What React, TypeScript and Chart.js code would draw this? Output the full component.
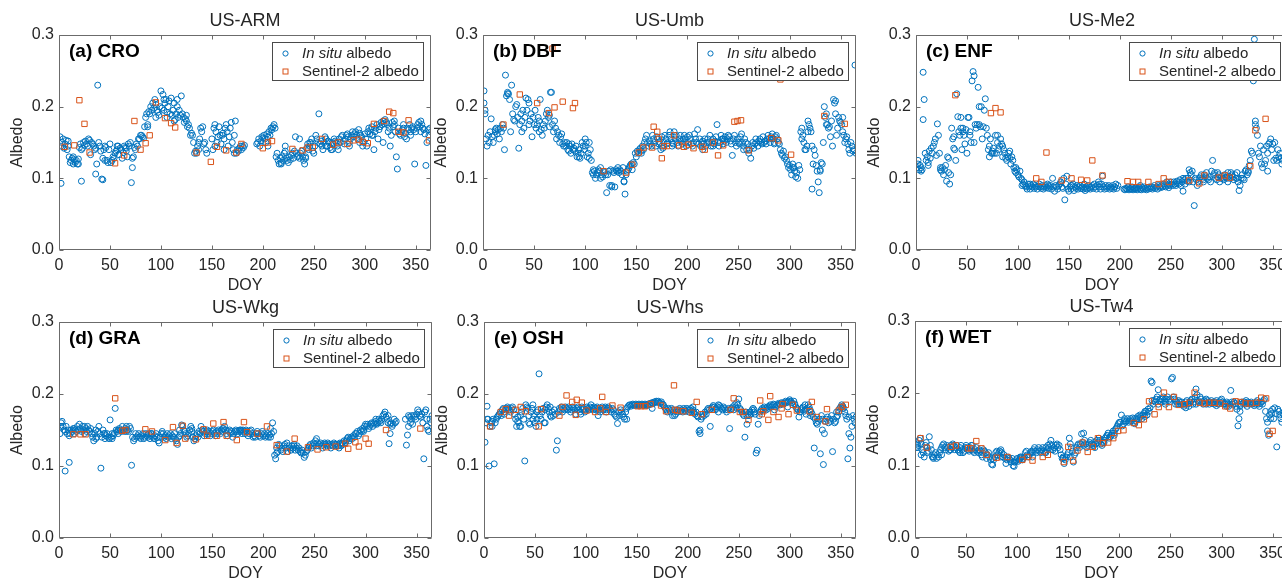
import React, { useEffect, useRef } from "react";
import { Chart, registerables } from "chart.js";

Chart.register(...registerables);

const FONT = "'Liberation Sans', Arial, Helvetica, sans-serif";
const BLUE = "#0072BD";
const ORANGE = "#D95319";
const AXIS = "#6b6b6b";
const TEXT = "#262626";

// axis settings
const DOY_MIN = 0;
const DOY_MAX = 365;
const DOY_STEP = 50;
const ALB_MIN = 0;
const ALB_MAX = 0.3;
const ALB_STEP = 0.1;

const siteNames = ["US-ARM", "US-Umb", "US-Me2", "US-Wkg", "US-Whs", "US-Tw4"];
const panelLabels = ["(a) CRO", "(b) DBF", "(c) ENF", "(d) GRA", "(e) OSH", "(f) WET"];
const seriesNames = ["In situ albedo", "Sentinel-2 albedo"];

// ---------- US-ARM (CRO) ----------
const armInSitu: (number | null)[] = [
  .158,.145,.150,.155,.142,.148,.153,.140,.145,.130,
  .122,.125,.128,.120,.126,.122,.125,.120,.127,.143,
  .148,.140,.142,.150,.146,.152,.148,.145,.155,.153,
  .133,.150,.148,.145,.140,.142,.120,.230,.150,.145,
  .138,.099,.128,.140,.145,.143,.125,.122,.140,.148,
  .122,.125,.130,.128,.135,.138,.140,.145,.133,.142,
  .140,.128,.136,.145,.143,.138,.130,.148,.145,.150,
  .094,.115,.130,.143,.140,.148,.145,.155,.155,.160,
  .160,.158,.156,.172,.185,.190,.172,.193,.190,.200,
  .195,.205,.198,.210,.203,.195,.192,.188,.200,.222,
  .198,.217,.195,.205,.210,.192,.200,.208,.190,.212,
  .188,.195,.205,.182,.190,.200,.185,.195,.188,.215,
  .190,.185,.178,.183,.180,.172,.175,.170,.160,.163,
  .160,.150,.135,.138,.135,.145,.140,.155,.170,.165,
  .172,.148,.150,.140,.135,null,null,null,null,.155,
  .140,.170,.175,.165,.150,.158,.172,.160,.148,.160,
  .163,.155,.170,.175,.165,.145,.158,.170,.178,.150,
  .140,.160,.180,.135,.140,.138,.142,.145,.140,.145,
  .143,.146,null,null,null,null,null,null,null,null,
  null,null,null,.148,.150,.155,.145,.152,.158,.156,
  .160,.155,.150,.162,.158,.165,.160,.170,.168,.172,
  .175,.170,.130,.135,.125,.120,.128,.122,.130,.125,
  .135,.145,.128,.125,.122,.130,.126,.132,.135,.128,
  .138,.158,.135,.130,.132,.128,.135,.138,.130,.125,
  .120,.128,.142,.148,.140,.145,.150,.155,.138,.135,
  .145,.160,.155,.150,.190,.148,.152,.145,.140,.150,
  .158,.155,.145,.152,.150,.143,.140,.150,.148,.155,
  .152,.150,.145,.140,.155,.150,.158,.160,.152,.148,
  .155,.160,.162,.158,.150,.155,.160,.165,.158,.162,
  .165,.160,.155,.168,.163,.160,.158,.145,.150,.162,
  .155,.145,.165,.170,.162,.168,.172,.160,.140,.165,
  .170,.175,.155,.168,.172,.178,.175,.180,.176,.182,
  .178,.175,.165,.170,.145,.160,.178,.172,.175,.165,
  .130,.113,.170,.162,.160,.165,.168,.170,.158,.163,
  .155,.170,.168,.175,.165,.170,.172,.168,.120,.165,
  .170,.175,.178,.172,.165,.175,.170,.168,.162,.118,
  .150,.168,.160,.170,.165,
];
const armInSituExtra: number[][] = [
  [2,.093],[9,.152],[14,.130],[19,.120],[22,.096],[36,.106],[43,.098],[45,.125],[57,.145],[66,.142],
  [72,.128],[87,.175],[95,.185],[103,.210],[106,.185],[113,.180],[116,.210],[125,.188],[137,.150],[153,.145],
  [162,.140],[172,.135],[205,.145],[218,.120],[222,.138],[236,.155],[242,.130],[246,.150],[262,.145],[268,.140],
  [285,.145],[295,.150],[307,.160],[318,.150],[329,.180],[338,.175],[345,.160],[355,.180],
];
const armSentinel: number[][] = [
  [5.5,.144],[15,.146],[20,.209],[25,.176],[30,.136],[55,.121],[64,.132],[74,.180],[80,.140],[85,.149],
  [89,.160],[95,.206],[104,.184],[110,.177],[114,.171],[135,.136],[149,.123],[155,.144],[164,.139],[174,.136],
  [179,.148],[200,.142],[205,.150],[209,.152],[229,.141],[239,.139],[244,.143],[249,.143],[258,.155],[269,.147],
  [274,.150],[283,.148],[289,.153],[294,.154],[298,.151],[303,.149],[309,.176],[319,.180],[324,.193],[328,.191],
  [333,.165],[338,.164],[343,.181],[363,.153],
];

// ---------- US-Umb (DBF) ----------
const umbInSitu: (number | null)[] = [
  .222,.190,.155,.145,.160,.150,.165,.183,.158,.150,
  .160,.165,.170,.162,.168,.155,.170,.165,.175,.170,
  .140,.244,.215,.220,.218,.210,.165,.230,.190,.182,
  .180,.200,.203,.185,.142,.175,.190,.180,.195,.170,
  .185,.212,.195,.210,.205,.180,.190,.158,.185,.175,
  .195,.170,.175,.185,.165,.210,.168,.160,.175,.170,
  .180,.190,.195,.185,.172,.220,.220,.175,.165,.180,
  .170,.155,.165,.160,.150,.158,.162,.148,.145,.150,
  .145,.150,.140,.148,.145,.135,.148,.140,.142,.138,
  .145,.130,.135,.140,.128,.135,.150,.145,.140,.145,
  .150,.130,.135,.128,.140,.125,.108,.112,.110,.100,
  .105,.108,.112,.110,.115,.105,.102,.110,.108,.105,
  .080,.105,.110,.090,.112,.090,.110,.108,.088,.112,
  .110,.115,.108,.112,.110,.105,.115,.096,.078,.105,
  .110,.112,.115,.118,.120,.112,.122,.120,.135,.130,
  .138,.135,.140,.142,.138,.145,.140,.150,.155,.160,
  .150,.145,.152,.148,.145,.160,.155,.150,.145,.158,
  .155,.148,.150,.140,.145,.142,.150,.160,.155,.148,
  .150,.160,.165,.155,.150,.148,.165,.155,.160,.150,
  .145,.155,.160,.152,.148,.155,.160,.150,.145,.158,
  .150,.160,.155,.148,.145,.150,.162,.155,.150,.168,
  .148,.155,.145,.150,.152,.148,.155,.145,.150,.155,
  .150,.160,.145,.150,.155,.148,.152,.158,.175,.150,
  .145,.150,.160,.155,.148,.152,.158,.150,.155,.160,
  .158,.152,.148,.132,.155,.160,.150,.145,.155,.150,
  .148,.158,.162,.150,.145,.155,.150,.140,.148,.135,
  .140,.128,.145,.150,.142,.148,.155,.150,.145,.152,
  .155,.150,.148,.158,.150,.152,.148,.155,.160,.155,
  .150,.158,.162,.155,.150,.158,.160,.155,.150,.148,
  .140,.135,.132,.138,.128,.130,.125,.120,.115,.118,
  .112,.105,.120,.115,.110,.102,.108,.100,.118,.112,
  .165,.170,.160,.150,.140,.140,.145,.180,.175,.170,
  .165,.085,.120,.140,.132,.118,.110,.095,.080,.112,
  .122,.120,.150,.200,.185,.190,.175,.170,.172,.158,
  .180,.145,.210,.205,.190,.160,.170,.185,.180,.178,
  .175,.165,.160,.150,.155,.158,.148,.140,.135,.150,
  .145,.138,.140,.258,.135,
];
const umbInSituExtra: number[][] = [
  [1,.205],[2,.195],[12,.168],[24,.218],[38,.165],[45,.175],[55,.180],[65,.188],[84,.138],[94,.130],
  [100,.155],[104,.150],[108,.105],[115,.100],[126,.088],[132,.110],[138,.095],[155,.135],[175,.158],[185,.145],
  [198,.155],[215,.140],[225,.145],[235,.155],[255,.140],[285,.148],[303,.115],[312,.155],[318,.165],[322,.145],
  [330,.110],[336,.175],[345,.208],[352,.185],
];
const umbSentinel: number[][] = [
  [20,.175],[36,.217],[53,.205],[64.5,.191],[68,.281],[70,.199],[78,.207],[88,.198],[90,.205],[118,.110],
  [140,.108],[146,.119],[152.5,.136],[157,.143],[165.5,.143],[167,.172],[170.5,.165],[172,.155],[175,.128],[177,.145],
  [180,.145],[187,.160],[192,.146],[196.5,.144],[201,.147],[206,.142],[214.5,.144],[217,.140],[225,.150],[230,.132],
  [235,.146],[246,.179],[249,.180],[252.5,.181],[260,.139],[282,.156],[289,.153],[291,.238],[301.5,.133],[334,.187],
  [354,.176],
];

// ---------- US-Me2 (ENF) ----------
const me2InSitu: (number | null)[] = [
  .115,.120,.112,.118,.115,.112,.248,.210,.135,.125,
  .130,.118,.138,.128,.142,.135,.145,.150,.155,.132,
  .176,.160,.135,.112,.110,.115,.105,.112,.118,.096,
  .130,.128,.092,.105,.170,.155,.158,.140,.125,.218,
  .186,.165,.160,.170,.140,.170,.160,.148,.168,.135,
  .185,.185,.165,.150,.236,.249,.243,.175,.170,.175,
  .227,.200,.172,.200,.155,.172,.195,.211,.170,.160,
  .140,.145,.155,.135,.138,.142,.135,.160,.135,.150,
  .140,.145,.155,.148,.130,.140,.135,.128,.125,.130,
  .135,.138,.120,.130,.125,.115,.110,.108,.112,.105,
  .102,.110,.100,.098,.092,.095,.090,.088,.085,.092,
  .088,.085,.090,.088,.092,.086,.090,.088,.085,.089,
  .092,.088,.086,.090,.085,.088,.090,.087,.092,.086,
  .088,.090,.085,.100,.088,.082,.090,.088,.085,.090,
  .092,.095,.088,.086,.100,.070,.092,.103,.085,.082,
  .088,.085,.090,.092,.083,.088,.086,.090,.085,.088,
  .090,.086,.088,.085,.092,.086,.088,.085,.090,.087,
  .085,.088,.090,.086,.092,.088,.085,.090,.095,.088,
  .085,.092,.103,.088,.085,.090,.086,.088,.090,.085,
  .088,.086,.090,.085,.088,.092,.086,.090,null,null,
  null,null,null,.085,.084,.086,.085,.088,.084,.086,
  .085,.088,.084,.086,.085,.087,.084,.086,.088,.085,
  .084,.087,.085,.088,.086,.084,.087,.085,.088,.086,
  .088,.085,.087,.090,.086,.088,.085,.090,.088,.087,
  .090,.088,.092,.090,.088,.095,.090,.092,.090,.095,
  .092,.090,.095,.092,.090,.096,.094,.092,.098,.090,
  .095,.082,.098,.092,.100,.096,.100,.095,.108,.105,
  .110,.095,.062,.100,.098,.090,.095,.100,.102,.105,
  .100,.098,.105,.102,.108,.100,.098,.102,.095,.110,
  .125,.105,.108,.100,.098,.102,.105,.095,.100,.103,
  .100,.098,.105,.102,.100,.095,.103,.100,.108,.105,
  .102,.098,.105,.100,.108,.095,.083,.090,.100,.105,
  .100,.098,.110,.112,.105,.110,.118,.125,.138,.135,
  .236,.294,.180,.170,.160,.135,.130,.145,.120,.115,
  .140,.120,.125,.145,.135,.148,.150,.155,.140,.148,
  .125,.150,.128,.125,.140,.130,.135,.128,.120,.125,
  .130,.128,.125,.122,.128,
];
const me2InSituExtra: number[][] = [
  [2,.125],[5,.110],[7,.182],[12,.122],[24,.115],[32,.108],[37,.142],[44,.185],[46,.165],[53,.160],
  [57,.150],[62,.175],[72,.130],[75,.135],[80,.160],[85,.145],[92,.128],[98,.115],[104,.090],[112,.092],
  [130,.090],[152,.090],[166,.083],[180,.092],[220,.090],[248,.087],[262,.100],[268,.112],[282,.095],[296,.108],
  [306,.108],[315,.100],[326,.108],[333,.175],[345,.110],
];
const me2Sentinel: number[][] = [
  [38.6,.216],[73.5,.191],[78,.198],[83,.192],[118,.100],[123,.095],[128,.136],[143,.097],[152.6,.100],[162,.098],
  [168,.097],[173,.125],[183,.104],[207.5,.096],[213,.095],[218,.095],[228,.095],[238,.092],[243,.100],[248,.095],
  [268,.097],[278,.093],[283,.104],[297,.101],[303,.104],[308,.101],[328,.117],[333,.167],[343,.183],
];

// ---------- US-Wkg (GRA) ----------
const wkgInSitu: (number | null)[] = [
  .145,.160,.162,.155,.150,.148,.155,.145,.150,.142,
  .145,.150,.148,.152,.145,.150,.148,.155,.150,.158,
  .152,.148,.155,.150,.145,.152,.148,.155,.150,.148,
  .152,.145,.140,.135,.145,.150,.140,.148,.155,.145,
  .097,.140,.150,.145,.138,.142,.145,.140,.138,.164,
  .140,.138,.142,.145,.180,.150,.148,.145,.152,.150,
  .148,.155,.150,.148,.152,.155,.150,.148,.155,.152,
  .101,.140,.135,.138,.145,.140,.142,.145,.140,.138,
  .142,.145,.138,.140,.145,.142,.140,.145,.138,.142,
  .145,.140,.138,.142,.145,.140,.135,.132,.140,.145,
  .148,.145,.140,.142,.138,.145,.140,.142,.145,.138,
  .142,.140,.145,.138,.135,.130,.140,.142,.145,.157,
  .155,.150,.148,.145,.140,.142,.145,.150,.155,.148,
  .140,.135,.138,.142,.145,.140,.148,.145,.155,.150,
  .148,.142,.145,.148,.150,.145,.148,.142,.145,.148,
  .150,.145,.142,.148,.145,.150,.148,.145,.150,.148,
  .152,.155,.150,.145,.142,.148,.150,.145,.148,.140,
  .145,.148,.150,.148,.145,.148,.150,.148,.145,.150,
  .148,.145,.150,.148,.142,.145,.148,.150,.145,.140,
  .142,.140,.145,.148,.145,.142,.140,.145,.148,.142,
  .145,.140,.142,.145,.140,.143,.140,.145,.160,.148,
  .115,.110,.125,.120,.130,.128,.122,.125,.120,.128,
  .130,.125,.132,.120,.128,.125,.122,.128,.125,.130,
  .122,.125,.128,.122,.125,.120,.118,.122,.118,.112,
  .115,.120,.122,.125,.128,.130,.125,.128,.132,.130,
  .135,.138,.132,.128,.130,.132,.128,.125,.130,.132,
  .130,.128,.132,.130,.128,.125,.130,.128,.132,.130,
  .128,.130,.128,.125,.130,.128,.132,.130,.135,.132,
  .135,.138,.140,.135,.138,.140,.138,.142,.140,.145,
  .145,.148,.142,.145,.150,.148,.152,.150,.155,.158,
  .155,.158,.152,.155,.158,.160,.155,.160,.158,.162,
  .158,.160,.165,.162,.160,.165,.170,.172,.175,.168,
  .165,.160,.131,.158,.160,.155,.158,.165,.160,.162,
  null,null,null,null,null,null,null,null,.165,.129,
  .143,.170,.168,.160,.165,.158,.170,.168,.165,.172,
  .178,.175,.170,.168,.172,.160,.110,.175,.178,.155,
  .150,.148,.165,.160,.170,
];
const wkgInSituExtra: number[][] = [
  [2,.155],[6,.093],[10,.105],[15,.152],[25,.155],[36,.138],[45,.145],[52,.145],[58,.150],[66,.148],
  [90,.145],[118,.150],[130,.152],[160,.152],[178,.150],[207,.152],[213,.118],[230,.128],[252,.128],[275,.132],
  [298,.148],[310,.165],[322,.170],[324,.145],[342,.155],[345,.170],[360,.165],
];
const wkgSentinel: number[][] = [
  [14,.144],[21,.144],[26,.144],[55,.194],[62,.149],[65,.150],[84.5,.151],[91,.148],[104,.136],[111.5,.154],
  [115,.132],[121,.156],[123.6,.138],[134,.137],[141.5,.151],[145,.142],[151,.159],[154.6,.142],[161,.161],[164,.142],
  [174,.136],[181,.161],[184,.147],[194,.145],[203.5,.155],[213,.129],[223,.120],[230.6,.138],[243.6,.126],[253,.123],
  [261.6,.126],[270.7,.127],[280,.131],[283,.124],[290,.133],[293.5,.127],[300,.138],[303,.131],[320,.150],[353.6,.152],
];

// ---------- US-Whs (OSH) ----------
const whsInSitu: (number | null)[] = [
  .133,.160,.183,.165,.100,.155,.160,.162,.165,.103,
  .160,.165,.168,.170,.172,.175,.170,.178,.180,.175,
  .178,.180,.182,.180,.178,.175,.180,.182,.178,.172,
  .165,.155,.162,.160,.155,.170,.175,.180,.165,.107,
  .185,.182,.180,.170,.158,.175,.180,.165,.170,.160,
  .155,.175,.178,.228,.170,.165,.175,.180,.160,.178,
  .182,.185,.180,.175,.170,.168,.175,.170,.178,.172,
  .122,.135,.175,.180,.178,.182,.175,.180,.178,.182,
  .180,.178,.182,.180,.175,.178,.182,.180,.178,.172,
  .180,.182,.178,.175,.180,.182,.178,.180,.175,.178,
  .182,.180,.178,.182,.185,.180,.178,.182,.180,.178,
  .182,.180,.178,.175,.180,.182,.178,.180,.182,.178,
  .180,.182,.180,.178,.175,.180,.178,.172,.170,.168,
  .159,.175,.170,.178,.175,.172,.168,.165,.175,.180,
  .182,.184,.185,.183,.185,.186,.184,.185,.186,.184,
  .185,.186,.184,.185,.186,.185,.184,.186,.185,.184,
  .186,.185,.187,.186,.188,.187,.189,.188,.190,.189,
  .190,.188,.187,.189,.186,.185,.182,.180,.178,.175,
  .180,.178,.175,.180,.178,.175,.170,.172,.178,.175,
  .178,.180,.176,.178,.175,.180,.178,.176,.180,.178,
  .175,.178,.180,.176,.178,.175,.172,.175,.170,.168,
  .148,.150,.165,.168,.172,.170,.175,.172,.178,.180,
  .178,.155,.180,.182,.184,.182,.178,.180,.182,.185,
  .184,.182,.180,.178,.182,.180,.178,.175,.178,.180,
  .152,.178,.180,.182,.178,.185,.182,.180,.185,.193,
  .180,.178,.175,.172,.170,.140,.175,.158,.172,.170,
  .175,.172,.178,.180,.175,.172,.118,.122,.158,.170,
  .175,.178,.180,.178,.182,.180,.178,.182,.180,.183,
  .185,.182,.184,.186,.185,.182,.184,.185,.187,.186,
  .185,.188,.187,.186,.188,.190,.188,.189,.190,.192,
  .190,.188,.185,.190,.186,.182,.180,.178,.168,.175,
  .178,.180,.182,.176,.178,.172,.180,.185,.182,.178,
  .175,.172,.168,.125,.165,.160,.158,.162,.165,.117,
  .170,.165,.102,.145,.162,.165,.168,.160,.165,.162,
  .170,.120,.165,.160,.162,.168,.170,.175,.180,.182,
  .185,.183,.180,.175,.170,.165,.110,.145,.125,.140,
  .155,.170,.165,.160,.168,
];
const whsInSituExtra: number[][] = [
  [3,.165],[8,.155],[20,.172],[33,.168],[36,.155],[44,.160],[48,.185],[52,.165],[60,.160],[65,.182],
  [95,.172],[112,.170],[120,.175],[140,.165],[165,.180],[185,.170],[205,.182],[212,.145],[230,.175],[248,.188],
  [258,.170],[265,.178],[285,.178],[298,.182],[315,.185],[320,.170],[332,.150],[346,.175],[352,.180],[358,.168],
];
const whsSentinel: number[][] = [
  [6,.155],[16.4,.175],[21.3,.179],[24.6,.170],[31,.178],[36,.182],[41,.176],[53.7,.155],[56,.179],[74,.170],
  [77,.182],[81,.198],[86.5,.189],[90,.171],[91,.192],[96,.188],[100.6,.177],[109,.175],[114,.180],[116,.196],
  [119.6,.175],[126,.184],[134,.181],[150.7,.183],[154,.183],[158,.183],[163.5,.186],[173.7,.184],[178.6,.176],[186.4,.212],
  [187.4,.178],[189.7,.177],[195.6,.176],[203.8,.174],[208.7,.189],[213.6,.172],[223.5,.178],[242,.178],[245,.194],[251,.175],
  [254.6,.175],[259.5,.164],[271,.191],[272.6,.172],[274,.176],[279,.164],[280.8,.197],[284,.175],[289,.168],[292,.180],
  [293,.186],[298.8,.172],[303,.185],[307,.177],[319.5,.176],[321.7,.189],[326.6,.168],[335,.162],[336.5,.179],[348,.177],
  [351,.182],[355,.185],
];

// ---------- US-Tw4 (WET) ----------
const tw4InSitu: (number | null)[] = [
  .125,.130,.128,.135,.138,.130,.122,.118,.112,.128,
  .132,.125,.120,.140,.128,.122,.112,.110,.115,.118,
  .110,.115,.112,.118,.122,.125,.128,.130,.125,.122,
  .128,.125,.120,.122,.128,.125,.130,.128,.122,.125,
  .128,.122,.120,.125,.128,.122,.118,.120,.125,.128,
  .125,.122,.120,.125,.122,.128,.120,.118,.122,.125,
  .120,.118,.122,.120,.115,.118,.122,.120,.118,.110,
  .115,.118,.112,.108,.102,.101,.108,.112,.118,.120,
  .115,.118,.120,.122,.118,.112,.115,.110,.103,.108,
  .112,.110,.108,.105,.110,.100,.099,.105,.108,.110,
  .106,.108,.110,.112,.108,.110,.112,.118,.120,.115,
  .112,.115,.118,.120,.118,.122,.125,.120,.118,.122,
  .125,.120,.118,.122,.125,.120,.118,.125,.122,.128,
  .125,.130,.135,.128,.122,.125,.120,.128,.130,.125,
  .128,.122,.115,.110,.112,.103,.108,.112,.115,.118,
  .138,.130,.125,.120,.105,.115,.118,.125,.128,.130,
  .125,.130,.144,.132,.128,.135,.130,.125,.128,.130,
  .132,.135,.130,.128,.132,.125,.130,.135,.132,.138,
  .135,.130,.128,.132,.135,.138,.140,.142,.145,.138,
  .140,.142,.145,.148,.145,.150,.152,.155,.158,.160,
  .160,.170,.155,.158,.162,.160,.162,.165,.160,.162,
  .165,.162,.166,.160,.165,.162,.165,.168,.165,.170,
  .168,.165,.170,.172,.168,.175,.170,.178,.175,.180,
  .217,.215,.185,.190,.188,.192,.195,.205,.190,.192,
  .188,.192,.195,.190,.188,.192,.195,.190,.188,.192,
  .220,.222,.195,.192,.190,.188,.185,.190,.188,.185,
  .188,.185,.182,.185,.188,.190,.185,.182,.188,.190,
  .192,.185,.188,.195,.206,.198,.190,.188,.195,.192,
  .188,.185,.190,.188,.185,.190,.188,.185,.188,.190,
  .186,.188,.185,.188,.190,.186,.185,.188,.190,.192,
  .188,.185,.186,.185,.188,.186,.182,.185,.204,.188,
  .185,.188,.186,.182,.178,.155,.165,.175,.185,.188,
  .186,.188,.185,.190,.186,.188,.185,.186,.188,.185,
  .186,.183,.185,.188,.186,.185,.182,.186,.188,.185,
  .190,.192,.175,.165,.160,.142,.170,.175,.172,.178,
  .165,.180,.172,.126,.178,.175,.170,.165,.160,.172,
  .170,.168,.165,.170,.168,
];
const tw4InSituExtra: number[][] = [
  [3,.125],[6,.115],[12,.118],[18,.112],[26,.115],[35,.122],[44,.118],[55,.128],[66,.112],[76,.110],
  [84,.112],[97,.105],[103,.112],[115,.112],[128,.118],[133,.122],[145,.110],[152,.112],[165,.145],[175,.128],
  [185,.132],[195,.142],[205,.165],[215,.158],[225,.175],[232,.190],[238,.185],[245,.185],[255,.185],[265,.180],
  [275,.185],[285,.192],[295,.183],[305,.182],[318,.182],[325,.182],[335,.190],[345,.148],[348,.165],
];
const tw4Sentinel: number[][] = [
  [5.5,.138],[11.4,.125],[35,.126],[40,.128],[52,.124],[55,.124],[60,.134],[65,.124],[70,.115],[80,.111],
  [90.5,.112],[105,.108],[110,.112],[115,.107],[125,.112],[130,.115],[145.6,.105],[150,.126],[154.7,.107],[159,.121],
  [164,.132],[169,.119],[174,.126],[179,.138],[184,.131],[189,.132],[194,.138],[198.7,.148],[204,.149],[214,.159],
  [219,.156],[224,.164],[229,.189],[234.5,.171],[238.5,.181],[243.6,.201],[248.5,.181],[253.4,.195],[258.3,.184],[264,.185],
  [268.7,.187],[273.6,.201],[278.5,.187],[283.4,.186],[288,.187],[293,.187],[298.7,.186],[303.6,.182],[308.5,.179],[313.7,.189],
  [318.6,.188],[323.5,.186],[328.3,.186],[334,.187],[338.8,.194],[343.6,.193],[347,.144],[350,.148],
];

const dailySeries = [armInSitu, umbInSitu, me2InSitu, wkgInSitu, whsInSitu, tw4InSitu];
const extraSeries = [armInSituExtra, umbInSituExtra, me2InSituExtra, wkgInSituExtra, whsInSituExtra, tw4InSituExtra];
const sentinelSeries = [armSentinel, umbSentinel, me2Sentinel, wkgSentinel, whsSentinel, tw4Sentinel];

// plot-area boxes in page pixels (layout, not data)
const BOXES = [
  { L: 59, T: 35, R: 431, B: 250 },
  { L: 483, T: 35, R: 856, B: 250 },
  { L: 916, T: 35, R: 1288, B: 250 },
  { L: 59, T: 322, R: 432, B: 538 },
  { L: 484, T: 322, R: 856, B: 538 },
  { L: 915, T: 321, R: 1288, B: 538 },
];

const Y_AXIS_W = 59;
const TOP_H = 35;
const X_AXIS_H = 50;
const RIGHT_PAD = 12;

function toPoints(daily: (number | null)[], extra: number[][]) {
  const pts: { x: number; y: number }[] = [];
  daily.forEach((v, i) => {
    if (v !== null) pts.push({ x: i + 1, y: v });
  });
  extra.forEach(([x, y]) => pts.push({ x, y }));
  return pts;
}

const decorPlugin = {
  id: "decor",
  afterDatasetsDraw(chart: any, _args: any, opts: any) {
    const { ctx, chartArea: a, scales } = chart;
    ctx.save();
    // frame
    ctx.strokeStyle = AXIS;
    ctx.lineWidth = 1;
    const l = Math.round(a.left) + 0.5;
    const r = Math.round(a.right) - 0.5;
    const t = Math.round(a.top) + 0.5;
    const b = Math.round(a.bottom) - 0.5;
    ctx.beginPath();
    ctx.rect(l, t, r - l, b - t);
    ctx.stroke();
    // inward ticks
    const TL = 4;
    ctx.beginPath();
    scales.x.ticks.forEach((tk: any) => {
      const px = Math.round(scales.x.getPixelForValue(tk.value)) + 0.5;
      ctx.moveTo(px, b);
      ctx.lineTo(px, b - TL);
      ctx.moveTo(px, t);
      ctx.lineTo(px, t + TL);
    });
    scales.y.ticks.forEach((tk: any) => {
      const py = Math.round(scales.y.getPixelForValue(tk.value)) + 0.5;
      ctx.moveTo(l, py);
      ctx.lineTo(l + TL, py);
      ctx.moveTo(r, py);
      ctx.lineTo(r - TL, py);
    });
    ctx.stroke();

    // legend box
    const bx = Math.round(a.right - 159) + 0.5;
    const by = Math.round(a.top + 7) + 0.5;
    const bw = 151;
    const bh = 38;
    ctx.fillStyle = "#ffffff";
    ctx.fillRect(bx, by, bw, bh);
    ctx.strokeStyle = "#4a4a4a";
    ctx.strokeRect(bx, by, bw, bh);
    const mx = bx + 13;
    const y1 = by + 11;
    const y2 = by + 29;
    ctx.lineWidth = 1;
    ctx.strokeStyle = BLUE;
    ctx.beginPath();
    ctx.arc(mx, y1, 2.6, 0, Math.PI * 2);
    ctx.stroke();
    ctx.strokeStyle = ORANGE;
    ctx.strokeRect(mx - 2.5, y2 - 2.5, 5, 5);
    ctx.fillStyle = TEXT;
    ctx.textBaseline = "middle";
    ctx.textAlign = "left";
    const tx = bx + 29.5;
    ctx.font = `italic 15px ${FONT}`;
    ctx.fillText("In situ", tx, y1);
    const wIt = ctx.measureText("In situ").width;
    ctx.font = `15px ${FONT}`;
    ctx.fillText(" albedo", tx + wIt, y1);
    ctx.fillText(seriesNames[1], tx, y2);

    // panel label
    ctx.fillStyle = "#000000";
    ctx.font = `bold 19px ${FONT}`;
    ctx.fillText(opts.label, a.left + 10, a.top + 17);
    ctx.restore();
  },
};

function PanelChart({ idx }: { idx: number }) {
  const ref = useRef<HTMLCanvasElement>(null);
  const box = BOXES[idx];
  const cl = box.L - Y_AXIS_W;
  const ct = box.T - TOP_H;
  const w = box.R + RIGHT_PAD - cl;
  const h = box.B + X_AXIS_H - ct;

  useEffect(() => {
    if (!ref.current) return;
    const tickFont = { family: FONT, size: 16 };
    const chart = new Chart(ref.current, {
      type: "scatter",
      data: {
        datasets: [
          {
            label: seriesNames[1],
            data: sentinelSeries[idx].map(([x, y]) => ({ x, y })),
            pointStyle: "rect",
            pointRadius: 3.8,
            pointHoverRadius: 3.8,
            pointBorderWidth: 1,
            pointBorderColor: ORANGE,
            pointBackgroundColor: "rgba(0,0,0,0)",
            borderColor: ORANGE,
            backgroundColor: "rgba(0,0,0,0)",
            order: 0,
          },
          {
            label: seriesNames[0],
            data: toPoints(dailySeries[idx], extraSeries[idx]),
            pointStyle: "circle",
            pointRadius: 3,
            pointHoverRadius: 3,
            pointBorderWidth: 1,
            pointBorderColor: BLUE,
            pointBackgroundColor: "rgba(0,0,0,0)",
            borderColor: BLUE,
            backgroundColor: "rgba(0,0,0,0)",
            order: 1,
          },
        ],
      } as any,
      options: {
        responsive: false,
        animation: false,
        events: [],
        layout: { padding: { left: 0, right: RIGHT_PAD, top: 0, bottom: 0 } },
        plugins: {
          legend: { display: false },
          tooltip: { enabled: false },
          title: {
            display: true,
            text: siteNames[idx],
            fullSize: false,
            color: TEXT,
            font: { family: FONT, size: 18, weight: "normal" },
            padding: { top: 10.2, bottom: 3.2 },
          },
          decor: { label: panelLabels[idx] },
        },
        scales: {
          x: {
            type: "linear",
            min: DOY_MIN,
            max: DOY_MAX,
            grid: { display: false, drawTicks: false },
            border: { display: false },
            ticks: {
              stepSize: DOY_STEP,
              includeBounds: false,
              padding: 6,
              color: TEXT,
              font: tickFont,
              maxRotation: 0,
              autoSkip: false,
            },
            title: {
              display: true,
              text: "DOY",
              color: TEXT,
              font: { family: FONT, size: 16 },
              padding: { top: 0, bottom: 4.4 },
            },
            afterFit: (s: any) => {
              s.height = X_AXIS_H;
            },
          },
          y: {
            type: "linear",
            min: ALB_MIN,
            max: ALB_MAX,
            grid: { display: false, drawTicks: false },
            border: { display: false },
            ticks: {
              stepSize: ALB_STEP,
              padding: 5,
              color: TEXT,
              font: tickFont,
              callback: (v: any) => Number(v).toFixed(1),
            },
            title: {
              display: true,
              text: "Albedo",
              color: TEXT,
              font: { family: FONT, size: 16 },
              padding: { top: 8.4, bottom: 0 },
            },
            afterFit: (s: any) => {
              s.width = Y_AXIS_W;
            },
          },
        },
      } as any,
      plugins: [decorPlugin as any],
    });
    return () => chart.destroy();
  }, [idx]);

  return (
    <canvas
      ref={ref}
      width={w}
      height={h}
      style={{ position: "absolute", left: cl, top: ct, width: w, height: h }}
    />
  );
}

export default function App() {
  return (
    <div
      style={{
        position: "fixed",
        left: 0,
        top: 0,
        width: 1282,
        height: 581,
        overflow: "hidden",
        background: "#ffffff",
      }}
    >
      {BOXES.map((_, i) => (
        <PanelChart key={i} idx={i} />
      ))}
    </div>
  );
}
